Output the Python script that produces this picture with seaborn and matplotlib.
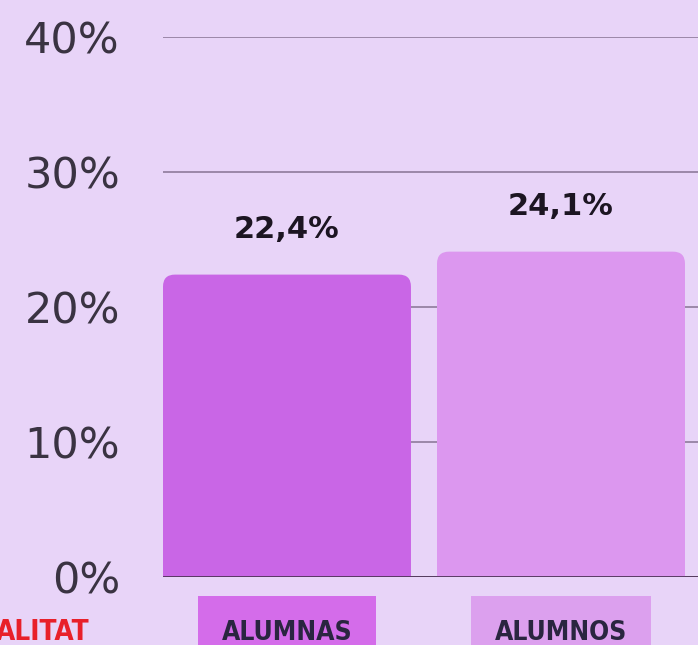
import matplotlib.pyplot as plt
import seaborn as sns
from matplotlib.patches import FancyBboxPatch

groups = ['ALUMNAS', 'ALUMNOS']
values = [22.4, 24.1]
value_labels = ['22,4%', '24,1%']
bar_colors = ['#c966e6', '#dc97ef']
label_colors = ['#d46cea', '#dca0ee']
y_ticks = [0, 10, 20, 30, 40]
y_tick_labels = ['0%', '10%', '20%', '30%', '40%']

bg = '#e8d4f8'
sns.set_style('white')
plt.rcParams['font.family'] = ['DejaVu Sans']

fig = plt.figure(figsize=(6.98, 6.45), dpi=100, facecolor=bg)
ax = fig.add_axes([163 / 698, 1 - 577 / 645, 1 - 163 / 698, (577 - 37) / 645])
ax.set_facecolor(bg)

sns.barplot(x=groups, y=values, hue=groups, palette=bar_colors, width=0.905,
            saturation=1, legend=False, ax=ax, zorder=3)

# swap the plain bars for rounded ones (bottom corners hidden under the baseline)
xr = 1 / 274.5
yr = 1 / 13.5
for p in list(ax.patches):
    x0, w, h = p.get_x(), p.get_width(), p.get_height()
    fc = p.get_facecolor()
    p.remove()
    rb = FancyBboxPatch((x0, -2), w, h + 2,
                        boxstyle='round,pad=0,rounding_size=%f' % (12 * xr),
                        mutation_aspect=yr / xr, facecolor=fc, edgecolor='none',
                        zorder=3, clip_on=True)
    ax.add_patch(rb)

for i, (v, lab) in enumerate(zip(values, value_labels)):
    ax.annotate(lab, (i, v), xytext=(0, 22), textcoords='offset points',
                ha='center', va='bottom', fontsize=22, fontweight='bold',
                color='#1c1522')

ax.set_xlim(-0.4525, 1.5)
ax.set_ylim(0, 40)
ax.set_yticks(y_ticks)
ax.set_yticklabels(y_tick_labels, fontsize=31, color='#3a3342')
ax.tick_params(axis='y', length=0, pad=31)
ax.yaxis.grid(True, color='#9b87a8', linewidth=1.4, zorder=1)
ax.set_axisbelow(True)
ax.axhline(0, color='#4e3458', linewidth=2, zorder=4)
for s in ax.spines.values():
    s.set_visible(False)

ax.set_xticks([0, 1])
ax.set_xticklabels(groups, fontsize=19, fontweight='bold', color='#2a2540',
                   fontstretch='condensed')
ax.tick_params(axis='x', length=0, pad=31)
for t, c in zip(ax.get_xticklabels(), label_colors):
    t.set_bbox(dict(boxstyle='square,pad=0.9', facecolor=c, edgecolor='none'))
ax.set_xlabel('')
ax.set_ylabel('')

fig.text(90 / 698, 1 - 632 / 645, 'ALITAT', ha='right', va='center', fontsize=20,
         fontweight='bold', color='#e8202a', fontstretch='condensed')

fig.savefig('out.png', dpi=100, facecolor=bg)
